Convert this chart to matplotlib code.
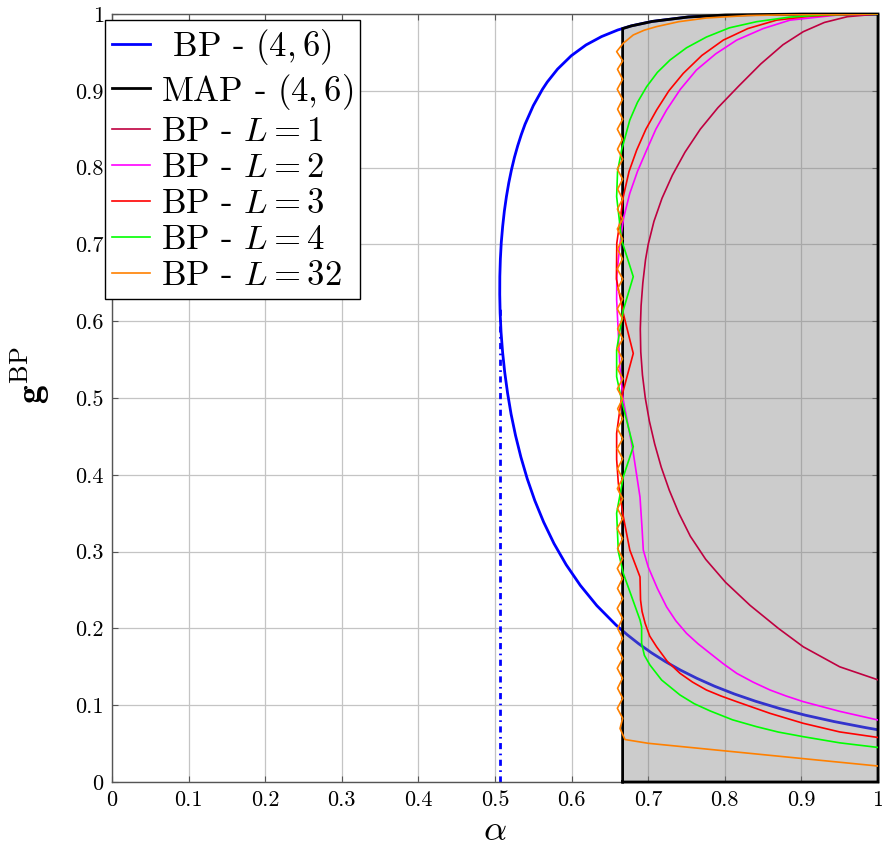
import matplotlib
matplotlib.use('Agg')
import matplotlib.pyplot as plt

plt.rcParams['font.family'] = 'cmr10'
plt.rcParams['mathtext.fontset'] = 'cm'
plt.rcParams['axes.formatter.use_mathtext'] = True

# ---------------- data ----------------
bp46_alpha = [1.000, 0.9845, 0.9427, 0.9051, 0.8712, 0.8406, 0.8125, 0.7869, 0.7635,
              0.7421, 0.7224, 0.7043, 0.6876, 0.6723, 0.6581, 0.6329, 0.6114, 0.5929,
              0.5770, 0.5635, 0.5519, 0.5421, 0.5338, 0.5268, 0.5210, 0.5164, 0.5127,
              0.5099, 0.5079, 0.5067, 0.5062, 0.5063, 0.5070, 0.5082, 0.5100, 0.5122,
              0.5149, 0.5180, 0.5215, 0.5254, 0.5297, 0.5343, 0.5392, 0.5500, 0.5619,
              0.5682, 0.5816, 0.5996, 0.6188, 0.6391, 0.6603, 0.6779, 0.7051, 0.7522,
              0.8008, 0.9000, 1.000]
bp46_g = [0.068, 0.0707, 0.0787, 0.0870, 0.0958, 0.1050, 0.1146, 0.1246, 0.1350,
          0.1457, 0.1568, 0.1682, 0.1800, 0.1920, 0.2043, 0.2297, 0.2560, 0.2829,
          0.3105, 0.3384, 0.3666, 0.3948, 0.4231, 0.4512, 0.4790, 0.5065, 0.5334,
          0.5598, 0.5856, 0.6107, 0.6348, 0.6583, 0.6809, 0.7026, 0.7234, 0.7433,
          0.7622, 0.7802, 0.7972, 0.8134, 0.8286, 0.8429, 0.8564, 0.8807, 0.9019,
          0.9114, 0.9282, 0.9457, 0.9597, 0.9706, 0.9792, 0.9845, 0.9903, 0.9961,
          0.9987, 0.99996, 1.000]

bp_threshold_alpha = [0.5062, 0.5062]
bp_threshold_g = [0.0, 0.62]

map_alpha = [0.6666, 0.6666, 0.6779, 0.7051, 0.7522, 0.8008, 0.9000, 1.000, 1.000, 0.6666]
map_g = [0.0, 0.981, 0.9845, 0.9903, 0.9961, 0.9987, 0.99996, 1.000, 0.0, 0.0]

l1_alpha = [1.000, 0.950, 0.9025, 0.870, 0.833, 0.801, 0.775, 0.755, 0.740, 0.7275,
            0.717, 0.7085, 0.7015, 0.6962, 0.6925, 0.6903, 0.6897, 0.6907, 0.6930, 0.6965,
            0.700, 0.7075, 0.718, 0.7315, 0.748, 0.768, 0.791, 0.818, 0.847, 0.876,
            0.9025, 0.930, 0.960, 1.000]
l1_g = [0.133, 0.150, 0.176, 0.200, 0.230, 0.260, 0.290, 0.320, 0.350, 0.380,
        0.410, 0.440, 0.470, 0.500, 0.530, 0.560, 0.590, 0.620, 0.650, 0.680,
        0.700, 0.730, 0.760, 0.790, 0.820, 0.850, 0.878, 0.906, 0.935, 0.960,
        0.977, 0.989, 0.9965, 1.000]

l2_alpha = [1.000, 0.950, 0.9025, 0.880, 0.859, 0.837, 0.8155, 0.798, 0.7807, 0.765,
            0.750, 0.736, 0.724, 0.712, 0.700, 0.6936, 0.692, 0.6893, 0.680, 0.6675,
            0.663, 0.661, 0.6588, 0.659, 0.6632, 0.668, 0.676, 0.686, 0.698, 0.710,
            0.724, 0.742, 0.763, 0.788, 0.8155, 0.850, 0.885, 0.950, 1.000]
l2_g = [0.0807, 0.092, 0.1046, 0.112, 0.1198, 0.130, 0.1415, 0.154, 0.1676, 0.180,
        0.1936, 0.210, 0.228, 0.252, 0.280, 0.302, 0.330, 0.371, 0.432, 0.497,
        0.540, 0.584, 0.628, 0.660, 0.7014, 0.735, 0.7666, 0.795, 0.8229, 0.850,
        0.875, 0.902, 0.9271, 0.948, 0.966, 0.981, 0.992, 0.999, 1.000]

l3_alpha = [1.000, 0.950, 0.9025, 0.859, 0.8155, 0.795, 0.776, 0.758, 0.7415, 0.725,
            0.711, 0.702, 0.696, 0.692, 0.690, 0.6893, 0.676, 0.6675, 0.661, 0.6588,
            0.6588, 0.6653, 0.6805, 0.6675, 0.6585, 0.659, 0.6675, 0.675, 0.685, 0.697,
            0.711, 0.727, 0.7458, 0.770, 0.798, 0.830, 0.8676, 0.910, 0.950, 1.000]
l3_g = [0.058, 0.0652, 0.0764, 0.0894, 0.1046, 0.112, 0.1198, 0.130, 0.1415, 0.157,
        0.176, 0.190, 0.2066, 0.222, 0.237, 0.267, 0.302, 0.3455, 0.389, 0.420,
        0.454, 0.5017, 0.558, 0.610, 0.655, 0.7014, 0.7622, 0.795, 0.8229, 0.850,
        0.875, 0.900, 0.9227, 0.946, 0.966, 0.981, 0.992, 0.997, 0.999, 1.000]

l4_alpha = [1.000, 0.950, 0.9025, 0.870, 0.8416, 0.810, 0.7807, 0.760, 0.7415, 0.7175,
            0.7023, 0.695, 0.6914, 0.6914, 0.6893, 0.6675, 0.661, 0.6588, 0.6675, 0.6805,
            0.6653, 0.6588, 0.6588, 0.6675, 0.6805, 0.6653, 0.6588, 0.660, 0.6653, 0.676,
            0.686, 0.698, 0.712, 0.7285, 0.750, 0.776, 0.806, 0.8416, 0.885, 0.930, 1.000]
l4_g = [0.045, 0.051, 0.059, 0.065, 0.072, 0.081, 0.0926, 0.102, 0.1133, 0.1328,
        0.1523, 0.165, 0.1806, 0.202, 0.211, 0.2717, 0.300, 0.350, 0.3975, 0.4366,
        0.497, 0.5277, 0.5625, 0.6146, 0.658, 0.7057, 0.7622, 0.795, 0.8229, 0.862,
        0.885, 0.9054, 0.924, 0.9401, 0.956, 0.970, 0.982, 0.990, 0.996, 0.999, 1.000]

l32_alpha = [1.000, 0.700, 0.6697, 0.6632,
             0.6667, 0.6597, 0.6668, 0.6600, 0.6665, 0.6596, 0.6668, 0.6598, 0.6666, 0.6601,
             0.6667, 0.6596, 0.6669, 0.6599, 0.6665, 0.6597, 0.6668, 0.6600, 0.6666, 0.6595,
             0.6667, 0.6599, 0.6668, 0.6597, 0.6665, 0.6600, 0.6667, 0.6596, 0.6668, 0.6598,
             0.6666, 0.6601, 0.6667, 0.6597, 0.6669, 0.6599, 0.6665, 0.6596, 0.6668, 0.6600,
             0.6666, 0.6597, 0.6667, 0.6599, 0.6668, 0.6596, 0.6665, 0.6600, 0.6667, 0.6597,
             0.6668, 0.6598, 0.6666, 0.6601, 0.6667, 0.6596, 0.6668, 0.6599, 0.6665, 0.6597,
             0.6668, 0.6600, 0.6666, 0.6596, 0.6667, 0.6599, 0.6668,
             0.6588, 0.6675, 0.6805, 0.695, 0.711, 0.740, 0.776, 0.830, 0.885, 1.000]
l32_g = [0.0208, 0.0504, 0.0553, 0.0697,
         0.083, 0.096, 0.109, 0.122, 0.135, 0.148, 0.161, 0.174, 0.187, 0.200,
         0.213, 0.226, 0.239, 0.252, 0.265, 0.278, 0.291, 0.304, 0.317, 0.330,
         0.343, 0.356, 0.369, 0.382, 0.395, 0.408, 0.421, 0.434, 0.447, 0.460,
         0.473, 0.486, 0.499, 0.512, 0.525, 0.538, 0.551, 0.564, 0.577, 0.590,
         0.603, 0.616, 0.629, 0.642, 0.655, 0.668, 0.681, 0.694, 0.707, 0.720,
         0.733, 0.746, 0.759, 0.772, 0.785, 0.798, 0.811, 0.824, 0.837, 0.850,
         0.863, 0.876, 0.889, 0.902, 0.915, 0.928, 0.939,
         0.951, 0.962, 0.9727, 0.979, 0.9836, 0.990, 0.9948, 0.998, 0.999, 1.000]

tick_values = [0, 0.1, 0.2, 0.3, 0.4, 0.5, 0.6, 0.7, 0.8, 0.9, 1]
tick_labels = ['0', '0.1', '0.2', '0.3', '0.4', '0.5', '0.6', '0.7', '0.8', '0.9', '1']

labels = [' BP - $(4,6)$', 'MAP - $(4,6)$', 'BP - $L=1$', 'BP - $L=2$',
          'BP - $L=3$', 'BP - $L=4$', 'BP - $L=32$']

# ---------------- figure ----------------
fig = plt.figure(figsize=(8.82, 8.46), dpi=100)
ax = fig.add_axes([112 / 882, 1 - 782 / 846, 766 / 882, 768 / 846])

ax.set_xlim(0, 1)
ax.set_ylim(0, 1)
ax.set_axisbelow(True)
ax.grid(True, color='#c4c4c4', lw=0.9, zorder=0)

h_bp, = ax.plot(bp46_alpha, bp46_g, color='#0000ff', lw=2.0, zorder=2)
ax.plot(bp_threshold_alpha, bp_threshold_g, color='#0000ff', lw=2.0,
        linestyle=(0, (2.2, 1.6, 0.6, 1.6)), zorder=2)

ax.fill(map_alpha, map_g, facecolor=(0.5, 0.5, 0.5), alpha=0.4, edgecolor='none', zorder=3)
h_map, = ax.plot(map_alpha, map_g, color='black', lw=2.0, zorder=4, clip_on=False,
                 solid_joinstyle='miter')

h1, = ax.plot(l1_alpha, l1_g, color=(0.75, 0.0, 0.25), lw=1.2, zorder=5)
h2, = ax.plot(l2_alpha, l2_g, color=(1.0, 0.0, 1.0), lw=1.2, zorder=5)
h3, = ax.plot(l3_alpha, l3_g, color=(1.0, 0.0, 0.0), lw=1.2, zorder=5)
h4, = ax.plot(l4_alpha, l4_g, color=(0.0, 1.0, 0.0), lw=1.2, zorder=5)
h32, = ax.plot(l32_alpha, l32_g, color=(1.0, 0.5, 0.0), lw=1.2, zorder=5)

ax.set_xticks(tick_values)
ax.set_xticklabels(tick_labels)
ax.set_yticks(tick_values)
ax.set_yticklabels(tick_labels)
ax.tick_params(direction='in', length=4, width=0.8, color='#555555',
               top=True, right=True, labelsize=16, pad=6)

for s in ax.spines.values():
    s.set_color('#555555')
    s.set_linewidth(1.0)

ax.set_xlabel(r'$\alpha$', fontsize=26, labelpad=4)
ax.set_ylabel(r'$\mathbf{g}^{\mathrm{BP}}$', fontsize=27)
ax.yaxis.set_label_coords(-0.078, 0.53)

leg = ax.legend([h_bp, h_map, h1, h2, h3, h4, h32], labels,
                loc='upper left', bbox_to_anchor=(-0.009, 0.992), borderaxespad=0,
                fontsize=25, frameon=True, fancybox=False, framealpha=1,
                edgecolor='black', handlelength=1.1, handletextpad=0.3,
                labelspacing=0.13, borderpad=0.2)
leg.get_frame().set_linewidth(1.0)
leg.set_zorder(10)

fig.savefig('out.png', dpi=100)
